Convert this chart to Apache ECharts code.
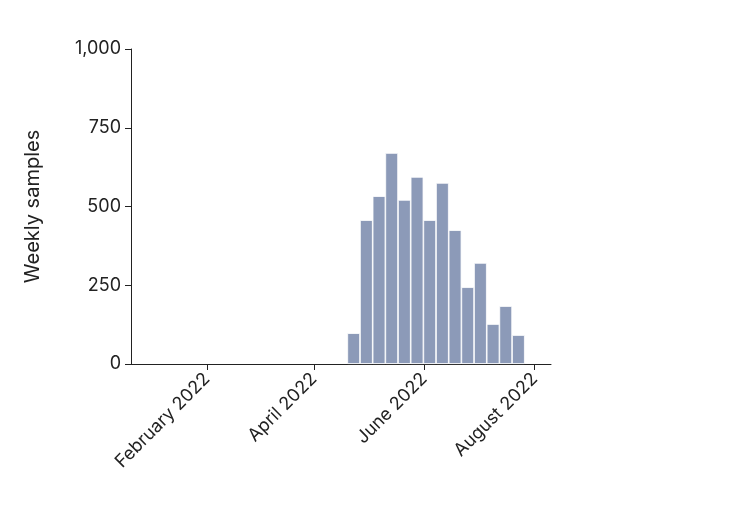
<!DOCTYPE html>
<html><head><meta charset="utf-8">
<script src="https://cdn.jsdelivr.net/npm/echarts@6/dist/echarts.min.js"></script>
<style>html,body{margin:0;padding:0;background:#fff}#c{width:754px;height:507px}</style>
</head><body><div id="c"></div>
<script>
const weeks = ['2022-04-23','2022-04-30','2022-05-07','2022-05-14','2022-05-21','2022-05-28','2022-06-04','2022-06-11','2022-06-18','2022-06-25','2022-07-02','2022-07-09','2022-07-16','2022-07-23'];
const samples = [98,457,533,670,521,594,457,575,425,244,321,127,184,92];
const tickDates = ['2022-02-01','2022-04-01','2022-06-01','2022-08-01'];
const yTicks = [0,250,500,750,1000];
const months = ['January','February','March','April','May','June','July','August','September','October','November','December'];
const ts = s => new Date(s + 'T00:00:00Z').getTime();
const chart = echarts.init(document.getElementById('c'));
const font = 'Inter, "Noto Sans", sans-serif';
chart.setOption({
  animation:false,
  grid:{left:131,right:203,top:49,bottom:143},
  xAxis:{type:'value',min:ts('2021-12-21'),max:ts('2022-08-10'),
    axisLine:{lineStyle:{color:'#222'}},
    axisTick:{show:true,customValues:tickDates.map(ts),length:6,lineStyle:{color:'#222'}},
    axisLabel:{customValues:tickDates.map(ts),rotate:45,fontSize:18,color:'#222',fontFamily:font,margin:12,
      formatter:v=>{const d=new Date(v);return months[d.getUTCMonth()]+' '+d.getUTCFullYear();}},
    splitLine:{show:false}},
  yAxis:{type:'value',min:0,max:1000,interval:250,name:'Weekly samples',nameLocation:'middle',nameGap:88,
    nameTextStyle:{fontSize:20,color:'#222',fontFamily:font},
    axisLine:{show:true,lineStyle:{color:'#222'}},axisTick:{show:true,length:6,lineStyle:{color:'#222'}},
    axisLabel:{fontSize:18,color:'#222',fontFamily:font,margin:10,formatter:v=>v.toLocaleString('en-US')},
    splitLine:{show:false}},
  series:[{type:'bar',data:weeks.map((w,i)=>[ts(w),samples[i]]),barWidth:12.8,
    itemStyle:{color:'#8c9ab8',borderColor:'#fff',borderWidth:0.8}}]
});
</script></body></html>
